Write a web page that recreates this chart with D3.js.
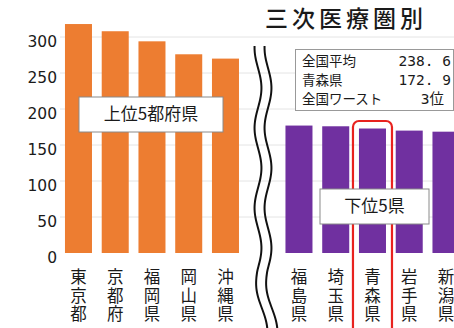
<!DOCTYPE html>
<html>
<head>
<meta charset="utf-8">
<script src="https://cdn.jsdelivr.net/npm/d3@7.9.0/dist/d3.min.js"></script>
<style>
  body { margin: 0; background: #fff; }
  text { font-family: "Noto Sans CJK JP", sans-serif; fill: #1a1a1a; }
</style>
</head>
<body>
<svg id="chart" width="454" height="328"></svg>
<script>
const topPrefs = ["東京都", "京都府", "福岡県", "岡山県", "沖縄県"];
const topValues = [318, 308, 294, 276, 270];
const bottomPrefs = ["福島県", "埼玉県", "青森県", "岩手県", "新潟県"];
const bottomValues = [177, 176, 172.9, 170, 168.5];
const yTicks = [0, 50, 100, 150, 200, 250, 300];
const infoLabels = ["全国平均", "青森県", "全国ワースト"];
const infoValues = ["238. 6", "172. 9", "3位"];
const highlight = "青森県";

const svg = d3.select("#chart");

// slot 5 is left empty for the axis break
const slots = [...topPrefs, "_break", ...bottomPrefs];
const data = [
  ...topPrefs.map((p, i) => ({ pref: p, value: topValues[i], group: "top" })),
  ...bottomPrefs.map((p, i) => ({ pref: p, value: bottomValues[i], group: "bottom" }))
];

const x = d3.scaleBand()
  .domain(slots)
  .range([60.1, 60.1 + slots.length * 36.75])
  .paddingInner(0.265)
  .paddingOuter(0.1325);

const y = d3.scaleLinear()
  .domain([0, 300])
  .range([253, 37]);

const color = { top: "#ED7D31", bottom: "#7030A0" };

// gridlines
svg.append("g")
  .selectAll("line")
  .data(yTicks.filter(d => d > 0))
  .join("line")
  .attr("x1", 60).attr("x2", 454)
  .attr("y1", d => y(d)).attr("y2", d => y(d))
  .attr("stroke", "#e4e4e4")
  .attr("stroke-width", 1);

// y axis labels
svg.append("g")
  .selectAll("text")
  .data(yTicks)
  .join("text")
  .attr("x", 57)
  .attr("y", d => y(d) + 5)
  .attr("text-anchor", "end")
  .attr("dominant-baseline", "middle")
  .style("font-family", "'DejaVu Sans', sans-serif")
  .attr("font-size", "15.5px")
  .text(d => d);

// bars
svg.append("g")
  .selectAll("rect")
  .data(data)
  .join("rect")
  .attr("x", d => x(d.pref))
  .attr("y", d => y(d.value))
  .attr("width", x.bandwidth())
  .attr("height", d => y(0) - y(d.value))
  .attr("fill", d => color[d.group]);

// x labels, stacked vertically
const xl = svg.append("g")
  .selectAll("text")
  .data(data)
  .join("text")
  .attr("text-anchor", "middle")
  .attr("font-size", "16.5px");

xl.selectAll("tspan")
  .data(d => d.pref.split("").map(c => ({ c, x: x(d.pref) + x.bandwidth() / 2 })))
  .join("tspan")
  .attr("x", d => d.x)
  .attr("y", (d, i) => 283 + i * 18.5)
  .text(d => d.c);

// highlight box around Aomori
svg.append("rect")
  .attr("x", x(highlight) - 6)
  .attr("y", 121)
  .attr("width", x.bandwidth() + 12)
  .attr("height", 220)
  .attr("rx", 6)
  .attr("fill", "none")
  .attr("stroke", "#e8231f")
  .attr("stroke-width", 2.2);

// group labels
function labelBox(cx, cy, w, h, txt) {
  svg.append("rect")
    .attr("x", cx - w / 2).attr("y", cy - h / 2)
    .attr("width", w).attr("height", h)
    .attr("fill", "#fff")
    .attr("stroke", "#8a8a8a")
    .attr("stroke-width", 1);
  svg.append("text")
    .attr("x", cx).attr("y", cy + 1)
    .attr("text-anchor", "middle")
    .attr("dominant-baseline", "middle")
    .attr("font-size", "17px")
    .text(txt);
}
labelBox(151, 114.5, 144, 35, "上位5都府県");
labelBox(374.5, 206.5, 109, 35, "下位5県");

// axis break: two wavy lines
const wave = d3.line().curve(d3.curveBasis).x(d => d[0]).y(d => d[1]);
[0, 10].forEach(off => {
  const pts = d3.range(46, 331, 4).map(yy => [
    258 + off + 3.5 * Math.sin(2 * Math.PI * (yy - 48) / 80 - Math.PI / 2) + (yy > 270 ? (yy - 270) * 0.1 : 0),
    yy
  ]);
  svg.append("path")
    .attr("d", wave(pts))
    .attr("fill", "none")
    .attr("stroke", "#111")
    .attr("stroke-width", 2);
});

// info box
svg.append("rect")
  .attr("x", 295.5).attr("y", 49.5)
  .attr("width", 158).attr("height", 61)
  .attr("fill", "#fff")
  .attr("stroke", "#999")
  .attr("stroke-width", 1);

infoLabels.forEach((t, i) => {
  svg.append("text")
    .attr("x", 302).attr("y", 62 + i * 19)
    .attr("dominant-baseline", "middle")
    .attr("font-size", "13.5px")
    .text(t);
  svg.append("text")
    .attr("x", i === 2 ? 444 : 451).attr("y", 62 + i * 19)
    .attr("text-anchor", "end")
    .attr("dominant-baseline", "middle")
    .style("font-family", "'DejaVu Sans Mono', 'Noto Sans CJK JP', monospace")
    .attr("font-size", "14.5px")
    .text(infoValues[i]);
});

// title
svg.append("text")
  .attr("x", 346).attr("y", 21)
  .attr("text-anchor", "middle")
  .attr("dominant-baseline", "middle")
  .attr("font-size", "23px")
  .attr("font-weight", 500)
  .attr("letter-spacing", "4px")
  .text("三次医療圏別");
</script>
</body>
</html>
